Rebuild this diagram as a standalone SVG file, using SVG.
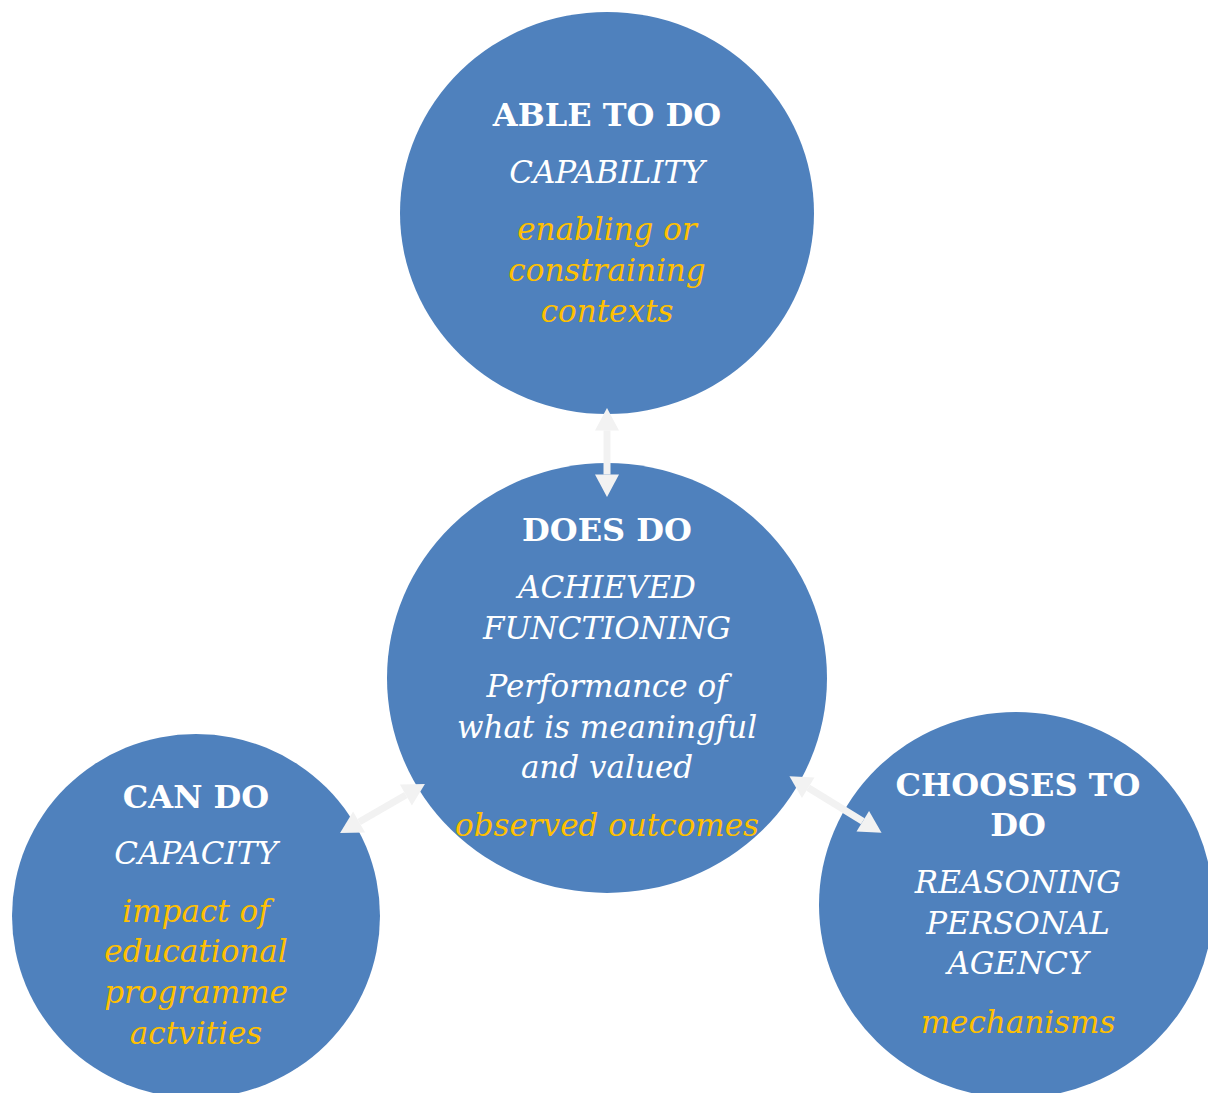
<svg xmlns="http://www.w3.org/2000/svg" width="1208" height="1093" viewBox="0 0 1208 1093">
<style>
.c{fill:#4F81BD}
text{font-family:"DejaVu Serif","Liberation Serif",serif;font-size:31px;text-anchor:middle;fill:#FFFFFF}
.b{font-weight:bold;font-size:32px}
.i{font-style:italic}
.y{fill:#FFC000;font-style:italic}
.a{stroke:#F2F2F2;stroke-width:7;fill:none}
.h{fill:#F2F2F2}
</style>
<rect width="1208" height="1093" fill="#FFFFFF"/>
<g id="node-able">
<ellipse class="c" cx="607" cy="213" rx="207" ry="201"/>
<text class="b" x="607" y="126">ABLE TO DO</text>
<text class="i" x="607" y="183">CAPABILITY</text>
<text class="y" x="607" y="240">enabling or</text>
<text class="y" x="607" y="281">constraining</text>
<text class="y" x="607" y="322">contexts</text>
</g>
<g id="node-does">
<ellipse class="c" cx="607" cy="678" rx="220" ry="215"/>
<text class="b" x="607" y="541">DOES DO</text>
<text class="i" x="607" y="598">ACHIEVED</text>
<text class="i" x="607" y="639">FUNCTIONING</text>
<text class="i" x="607" y="697">Performance of</text>
<text class="i" x="607" y="738">what is meaningful</text>
<text class="i" x="607" y="778">and valued</text>
<text class="y" x="607" y="836">observed outcomes</text>
</g>
<g id="node-can">
<ellipse class="c" cx="196" cy="916" rx="184" ry="182"/>
<text class="b" x="196" y="808">CAN DO</text>
<text class="i" x="196" y="864">CAPACITY</text>
<text class="y" x="196" y="922">impact of</text>
<text class="y" x="196" y="962">educational</text>
<text class="y" x="196" y="1003">programme</text>
<text class="y" x="196" y="1044">actvities</text>
</g>
<g id="node-chooses">
<ellipse class="c" cx="1016" cy="905" rx="197" ry="193"/>
<text class="b" x="1018" y="796">CHOOSES TO</text>
<text class="b" x="1018" y="836">DO</text>
<text class="i" x="1018" y="893">REASONING</text>
<text class="i" x="1018" y="934">PERSONAL</text>
<text class="i" x="1018" y="974">AGENCY</text>
<text class="y" x="1018" y="1033">mechanisms</text>
</g>
<g id="connectors">
<g transform="translate(607,452.5) rotate(90)">
<line class="a" x1="-22" y1="0" x2="22" y2="0"/>
<polygon class="h" points="-44.5,0 -22,-12 -22,12"/>
<polygon class="h" points="44.5,0 22,-12 22,12"/>
</g>
<g transform="translate(382.5,808.5) rotate(-30)">
<line class="a" x1="-27" y1="0" x2="27" y2="0"/>
<polygon class="h" points="-49,0 -27,-12 -27,12"/>
<polygon class="h" points="49,0 27,-12 27,12"/>
</g>
<g transform="translate(835.5,804.5) rotate(31.5)">
<line class="a" x1="-32" y1="0" x2="32" y2="0"/>
<polygon class="h" points="-54,0 -32,-12 -32,12"/>
<polygon class="h" points="54,0 32,-12 32,12"/>
</g>
</g>
</svg>
